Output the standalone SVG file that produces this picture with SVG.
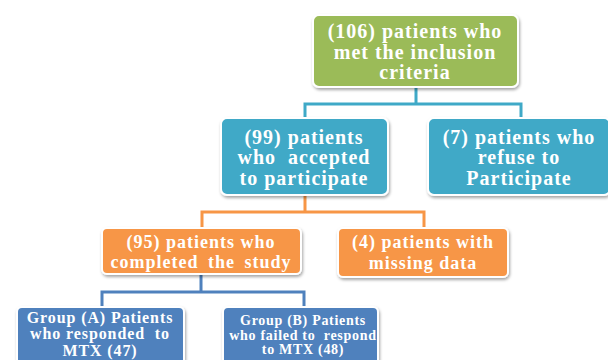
<svg xmlns="http://www.w3.org/2000/svg" width="608" height="360" viewBox="0 0 608 360">
  <defs>
    <filter id="shadow" x="-10%" y="-10%" width="120%" height="130%">
      <feDropShadow dx="1" dy="2" stdDeviation="1.5" flood-color="#000" flood-opacity="0.35"/>
    </filter>
  </defs>
  <style>
    .box { stroke: #ffffff; stroke-width: 2; filter: url(#shadow); }
    .green { fill: #9BBB59; }
    .teal { fill: #3FA9C7; }
    .orange { fill: #F79646; }
    .blue { fill: #4F81BD; }
    .lbl { font-family: "Liberation Serif", "Times New Roman", serif; font-weight: bold; fill: #ffffff; text-anchor: middle; dominant-baseline: central; }
    .big { font-size: 20px; letter-spacing: 1px; }
    .mid { font-size: 18px; letter-spacing: 1px; }
    .sm { font-size: 16px; letter-spacing: 0.9px; }
    .xs { font-size: 14px; letter-spacing: 0.7px; }
    .wire { fill: none; stroke-width: 3; }
  </style>
  <rect width="608" height="360" fill="#ffffff"/>

  <g id="connectors">
    <path class="wire" stroke="#3FA9C7" d="M416 87 V104 M305 118 V104 H521 V118"/>
    <path class="wire" stroke="#F79646" d="M305 195 V212 H202 V228 M202 212 H424 V228"/>
    <path class="wire" stroke="#4F81BD" d="M201 274 V292 H102 V307 M201 292 H304 V307"/>
  </g>

  <g id="included">
    <rect class="box green" x="313" y="15" width="205" height="72" rx="6"/>
    <text class="lbl big" x="415" y="31">(106) patients who</text>
    <text class="lbl big" x="415" y="52">met the inclusion</text>
    <text class="lbl big" x="415" y="72">criteria</text>
  </g>

  <g id="accepted">
    <rect class="box teal" x="221" y="118" width="167" height="77" rx="6"/>
    <text class="lbl big" x="304" y="137">(99) patients</text>
    <text class="lbl big" x="304" y="157" xml:space="preserve">who  accepted</text>
    <text class="lbl big" x="304" y="178">to participate</text>
  </g>

  <g id="refused">
    <rect class="box teal" x="428" y="118" width="182" height="77" rx="6"/>
    <text class="lbl big" x="519" y="137">(7) patients who</text>
    <text class="lbl big" x="519" y="157">refuse to</text>
    <text class="lbl big" x="519" y="178">Participate</text>
  </g>

  <g id="completed">
    <rect class="box orange" x="102" y="228" width="199" height="46" rx="5"/>
    <text class="lbl mid" x="201" y="242">(95) patients who</text>
    <text class="lbl mid" x="201" y="262" xml:space="preserve" word-spacing="4">completed the study</text>
  </g>

  <g id="missing">
    <rect class="box orange" x="338" y="228" width="170" height="49" rx="5"/>
    <text class="lbl mid" x="423" y="242">(4) patients with</text>
    <text class="lbl mid" x="423" y="263">missing data</text>
  </g>

  <g id="group-a">
    <rect class="box blue" x="17" y="307" width="167" height="60" rx="5"/>
    <text class="lbl sm" x="100" y="317">Group (A) Patients</text>
    <text class="lbl sm" x="100" y="333" xml:space="preserve">who responded  to</text>
    <text class="lbl sm" x="100" y="350">MTX (47)</text>
  </g>

  <g id="group-b">
    <rect class="box blue" x="223" y="307" width="155" height="60" rx="5"/>
    <text class="lbl xs" x="303" y="320">Group (B) Patients</text>
    <text class="lbl xs" x="303" y="335" xml:space="preserve">who failed to  respond</text>
    <text class="lbl xs" x="303" y="349">to MTX (48)</text>
  </g>
</svg>
